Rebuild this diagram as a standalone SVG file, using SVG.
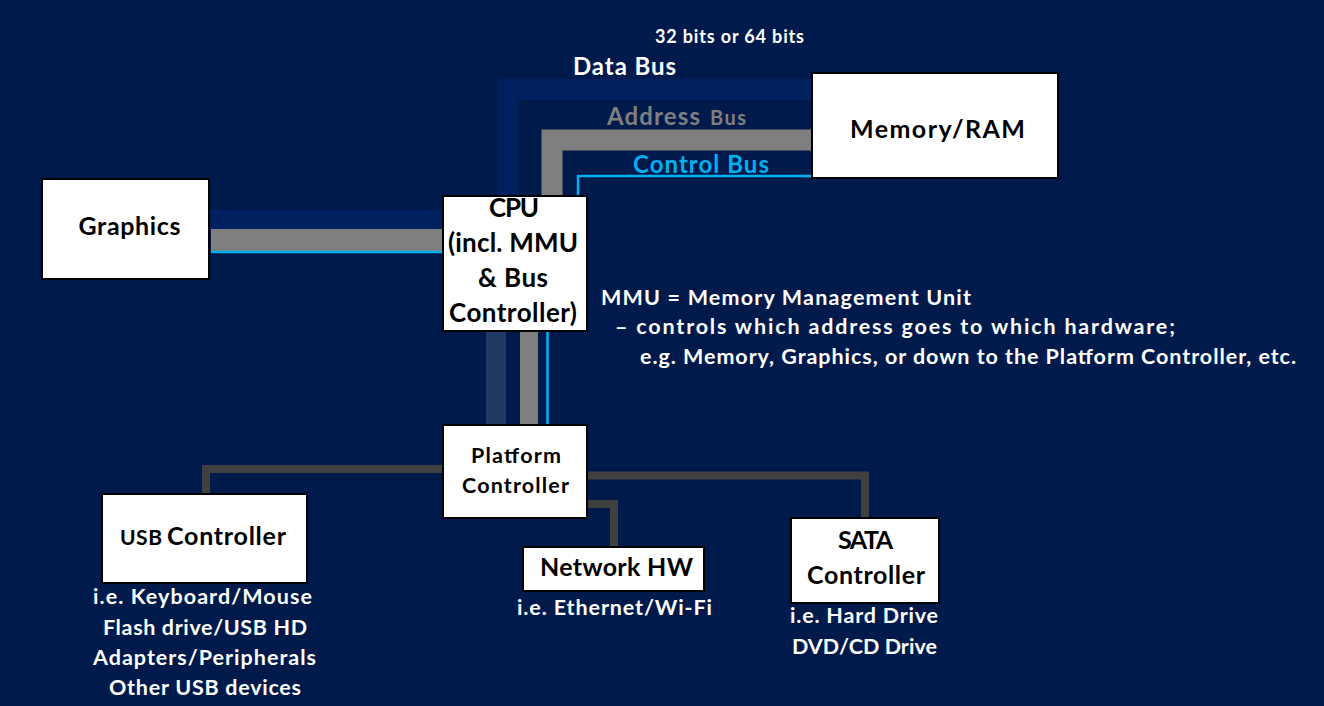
<svg xmlns="http://www.w3.org/2000/svg" width="1324" height="706" viewBox="0 0 1324 706">
  <style>
    text { font-family: Lato, "Open Sans", "Liberation Sans", sans-serif; font-weight: 700; }
    .box { fill: #ffffff; stroke: #000000; stroke-width: 2; }
    .lbl { fill: #000000; text-anchor: middle; }
    .wt { fill: #ffffff; }
    .wc { fill: #ffffff; text-anchor: middle; }
    .bus { fill: none; stroke-linejoin: miter; stroke-linecap: butt; }
    .data { stroke: #002060; }
    .data2 { stroke: #203864; }
    .addr { stroke: #7f7f7f; }
    .ctrl { stroke: #00b0f0; stroke-width: 2.5; }
    .pc { fill: none; stroke: #404040; stroke-width: 8; stroke-linejoin: miter; }
  </style>
  <rect x="0" y="0" width="1324" height="706" fill="#001a4b"/>

  <g id="connectors">
    <!-- CPU to Memory -->
    <path class="bus data" d="M508 197 V89.5 H813" stroke-width="21"/>
    <path class="bus addr" d="M552 197 V140 H813" stroke-width="21"/>
    <path class="bus ctrl" d="M578 197 V176 H813"/>
    <!-- Graphics to CPU -->
    <path class="bus data" d="M209 219.5 H443" stroke-width="19"/>
    <path class="bus addr" d="M211 240 H443" stroke-width="22"/>
    <path class="bus ctrl" d="M211 252 H443"/>
    <!-- CPU to Platform Controller -->
    <path class="bus data2" d="M496 331 V425" stroke-width="20"/>
    <path class="bus addr" d="M529 331 V425" stroke-width="18"/>
    <path class="bus ctrl" d="M547.5 331 V425"/>
    <!-- Platform Controller to peripherals -->
    <path class="pc" d="M443 469 H206 V494"/>
    <path class="pc" d="M587 475.5 H865 V518"/>
    <path class="pc" d="M587 504 H614 V547"/>
  </g>

  <g id="bus-labels">
    <text class="wt" x="655" y="43" font-size="18" textLength="149">32 bits or 64 bits</text>
    <text class="wt" x="573" y="75" font-size="24" textLength="103">Data Bus</text>
    <text x="607" y="125" fill="#7f7f7f" font-size="24"><tspan textLength="93">Address</tspan><tspan x="710" font-size="20" textLength="36">Bus</tspan></text>
    <text x="633" y="173" fill="#00b0f0" font-size="24" textLength="136">Control Bus</text>
  </g>

  <g id="memory">
    <rect class="box" x="812" y="73" width="246" height="105"/>
    <text class="lbl" x="937.5" y="138" font-size="25" textLength="175">Memory/RAM</text>
  </g>

  <g id="graphics">
    <rect class="box" x="42" y="179" width="167" height="100"/>
    <text class="lbl" x="129.5" y="235" font-size="25" textLength="102">Graphics</text>
  </g>

  <g id="cpu">
    <rect class="box" x="443" y="196" width="144" height="135"/>
    <text class="lbl" x="514" y="217" font-size="26" textLength="50">CPU</text>
    <text class="lbl" x="513" y="252" font-size="26" textLength="130">(incl. MMU</text>
    <text class="lbl" x="513" y="287" font-size="26" textLength="70">&amp; Bus</text>
    <text class="lbl" x="513" y="322" font-size="26" textLength="128">Controller)</text>
  </g>

  <g id="mmu-note">
    <text class="wt" x="601" y="305" font-size="21.5" textLength="370">MMU = Memory Management Unit</text>
    <text class="wt" x="615" y="334" font-size="21.5" textLength="560">– controls which address goes to which hardware;</text>
    <text class="wt" x="640" y="364" font-size="21.5" textLength="656">e.g. Memory, Graphics, or down to the Platform Controller, etc.</text>
  </g>

  <g id="platform-controller">
    <rect class="box" x="443" y="425" width="144" height="93"/>
    <text class="lbl" x="516" y="463" font-size="21.5" textLength="90">Platform</text>
    <text class="lbl" x="515.5" y="493" font-size="21.5" textLength="107">Controller</text>
  </g>

  <g id="usb-controller">
    <rect class="box" x="102" y="494" width="205" height="89"/>
    <text x="120" y="545" fill="#000000" font-size="21"><tspan textLength="42">USB</tspan><tspan x="167" font-size="25" textLength="119">Controller</tspan></text>
    <text class="wc" x="202.5" y="604" font-size="21.5" textLength="219">i.e. Keyboard/Mouse</text>
    <text class="wc" x="205" y="635" font-size="21.5" textLength="204">Flash drive/USB HD</text>
    <text class="wc" x="204.5" y="665" font-size="21.5" textLength="223">Adapters/Peripherals</text>
    <text class="wc" x="205" y="695" font-size="21.5" textLength="192">Other USB devices</text>
  </g>

  <g id="network-hw">
    <rect class="box" x="523" y="547" width="181" height="44"/>
    <text class="lbl" x="616.5" y="576" font-size="25" textLength="153">Network HW</text>
    <text class="wc" x="614.5" y="615" font-size="21.5" textLength="195">i.e. Ethernet/Wi-Fi</text>
  </g>

  <g id="sata-controller">
    <rect class="box" x="791" y="518" width="148" height="85"/>
    <text class="lbl" x="865.5" y="549" font-size="25" textLength="55">SATA</text>
    <text class="lbl" x="866" y="584" font-size="25" textLength="118">Controller</text>
    <text class="wc" x="864" y="623" font-size="21.5" textLength="148">i.e. Hard Drive</text>
    <text class="wc" x="864.5" y="654" font-size="21.5" textLength="145">DVD/CD Drive</text>
  </g>
</svg>
